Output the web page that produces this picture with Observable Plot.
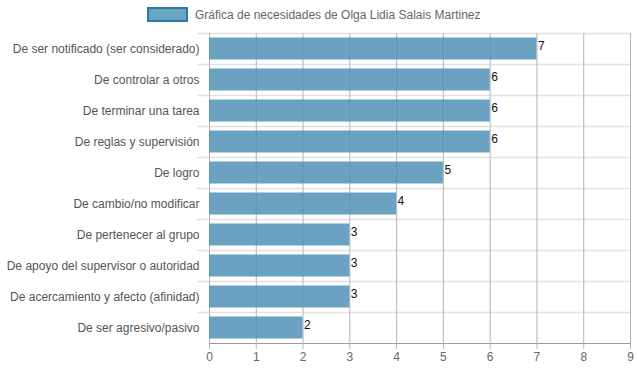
<!DOCTYPE html>
<html>
<head>
<meta charset="utf-8">
<script src="https://cdn.jsdelivr.net/npm/d3@7"></script>
<script src="https://cdn.jsdelivr.net/npm/@observablehq/plot@0.6"></script>
<style>
  body { margin: 0; background: #fff; font-family: "Liberation Sans", Arial, sans-serif; }
  #wrap { position: relative; width: 637px; height: 371px; }
  #legend { position: absolute; left: 147px; top: 7px; display: flex; align-items: center; font-size: 12px; color: #666; }
  #legend .sw { width: 37px; height: 11px; background: #6aa5c4; border: 2px solid #2e78a6; margin-right: 7px; }
</style>
</head>
<body>
<div id="wrap">
  <div id="legend"><div class="sw"></div><span id="legendText"></span></div>
</div>
<script>
const seriesName = "Gráfica de necesidades de Olga Lidia Salais Martinez";
const categories = [
  "De ser notificado (ser considerado)",
  "De controlar a otros",
  "De terminar una tarea",
  "De reglas y supervisión",
  "De logro",
  "De cambio/no modificar",
  "De pertenecer al grupo",
  "De apoyo del supervisor o autoridad",
  "De acercamiento y afecto (afinidad)",
  "De ser agresivo/pasivo"
];
const values = [7, 6, 6, 6, 5, 4, 3, 3, 3, 2];
const xTicks = [0, 1, 2, 3, 4, 5, 6, 7, 8, 9];

document.getElementById("legendText").textContent = seriesName;
const data = categories.map((c, i) => ({category: c, value: values[i]}));

const W = 637, H = 371, mT = 33, mB = 28, mL = 209, mR = 7;
const step = (H - mT - mB) / categories.length;
const pxPerUnit = (W - mL - mR) / 9;

const chart = Plot.plot({
  width: W,
  height: H,
  marginLeft: mL,
  marginRight: mR,
  marginTop: mT,
  marginBottom: mB,
  style: {fontFamily: '"Liberation Sans", Arial, sans-serif', fontSize: "12px", color: "#555", background: "transparent"},
  x: {domain: [0, 9], ticks: xTicks, label: null},
  y: {domain: categories, paddingInner: 0.29, paddingOuter: 0.145, round: false, label: null},
  marks: [
    Plot.gridY({dy: -step / 2, stroke: "#e2e2e2", strokeOpacity: 1, strokeWidth: 1.5, x1: -12 / pxPerUnit, x2: 9}),
    Plot.gridX({ticks: xTicks, stroke: "#b5b5b5", strokeOpacity: 1}),
    Plot.barX(data, {y: "category", x: "value", fill: "#4a8eb5", fillOpacity: 0.82}),
    Plot.frame({anchor: "bottom", stroke: "#9a9a9a"}),
    Plot.axisX({ticks: xTicks, tickSize: 6, tickPadding: 3, stroke: "#b5b5b5", fill: "#666", fontSize: 12, label: null}),
    Plot.axisY({tickSize: 0, tickPadding: 10, fill: "#555", fontSize: 12, label: null}),
    Plot.text(data, {y: "category", x: "value", text: d => String(d.value), textAnchor: "start", dx: 1, dy: -3, fill: "#111", fontSize: 12})
  ]
});
document.getElementById("wrap").prepend(chart);
</script>
</body>
</html>
